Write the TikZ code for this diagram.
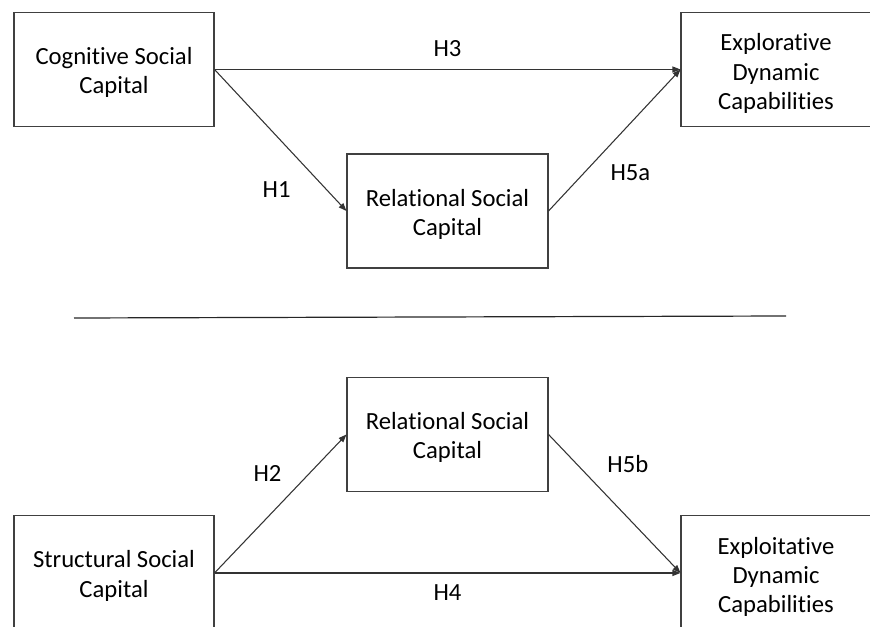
\documentclass[tikz,border=0pt]{standalone}
\usepackage{fontspec}
\setmainfont[Ligatures={NoCommon,NoContextual,NoRare}]{Carlito}
\usetikzlibrary{positioning,arrows.meta}

\newcommand{\topfill}[1]{\rule{0pt}{#1}}

\tikzset{
  factor/.style={draw=black!75, line width=0.8pt, rectangle, align=center,
    minimum width=150pt, minimum height=86pt, inner sep=2pt,
    font=\fontsize{18.5}{22}\selectfont},
  hyp/.style={font=\fontsize{18.5}{22}\selectfont, inner sep=0pt},
  link/.style={draw=black!80, line width=0.8pt, -{Triangle[length=6pt,width=4.5pt]}}
}

\begin{document}
\begin{tikzpicture}[x=0.75pt, y=-0.75pt]
  \useasboundingbox (0,0) rectangle (870,627);
  % upper model
  \node (cog) [factor] at (114,69.5) {\topfill{17.5pt}Cognitive Social\\Capital};
  \node (expl) [factor, right of=cog, node distance=496.5pt, minimum width=142.5pt] {\topfill{19pt}Explorative\\Dynamic\\Capabilities};
  \node (rel1) [factor, minimum width=150.75pt, minimum height=85.5pt] at (447.5,211) {\topfill{17.5pt}Relational Social\\Capital};
  % lower model
  \node (str) [factor, below of=cog, node distance=377.6pt] {\topfill{17.5pt}Structural Social\\Capital};
  \node (expt) [factor, right of=str, node distance=496.5pt, minimum width=142.5pt] {\topfill{19pt}Exploitative\\Dynamic\\Capabilities};
  \node (rel2) [factor, below of=rel1, node distance=167.6pt, minimum width=150.75pt, minimum height=85.5pt] {\topfill{17.5pt}Relational Social\\Capital};
  \coordinate (sepL) at (74,318);
  \coordinate (sepR) at (786,316);
  \draw[black!85, line width=0.9pt] (sepL) -- (sepR);
  \path (cog.east) edge[link] node[hyp, midway, yshift=15.4pt] {H3} (expl.west)
        (cog.east) edge[link] node[hyp, pos=0.85, xshift=-37.5pt] {H1} (rel1.west)
        (rel1.east) edge[link] node[hyp, pos=0.27, xshift=34.7pt] {H5a} (expl.west)
        (str.east) edge[link] node[hyp, midway, yshift=-15pt] {H4} (expt.west)
        (str.east) edge[link] node[hyp, pos=0.72, xshift=-31.5pt] {H2} (rel2.west)
        (rel2.east) edge[link] node[hyp, pos=0.21, xshift=38.7pt] {H5b} (expt.west)
        ;
\end{tikzpicture}
\end{document}
